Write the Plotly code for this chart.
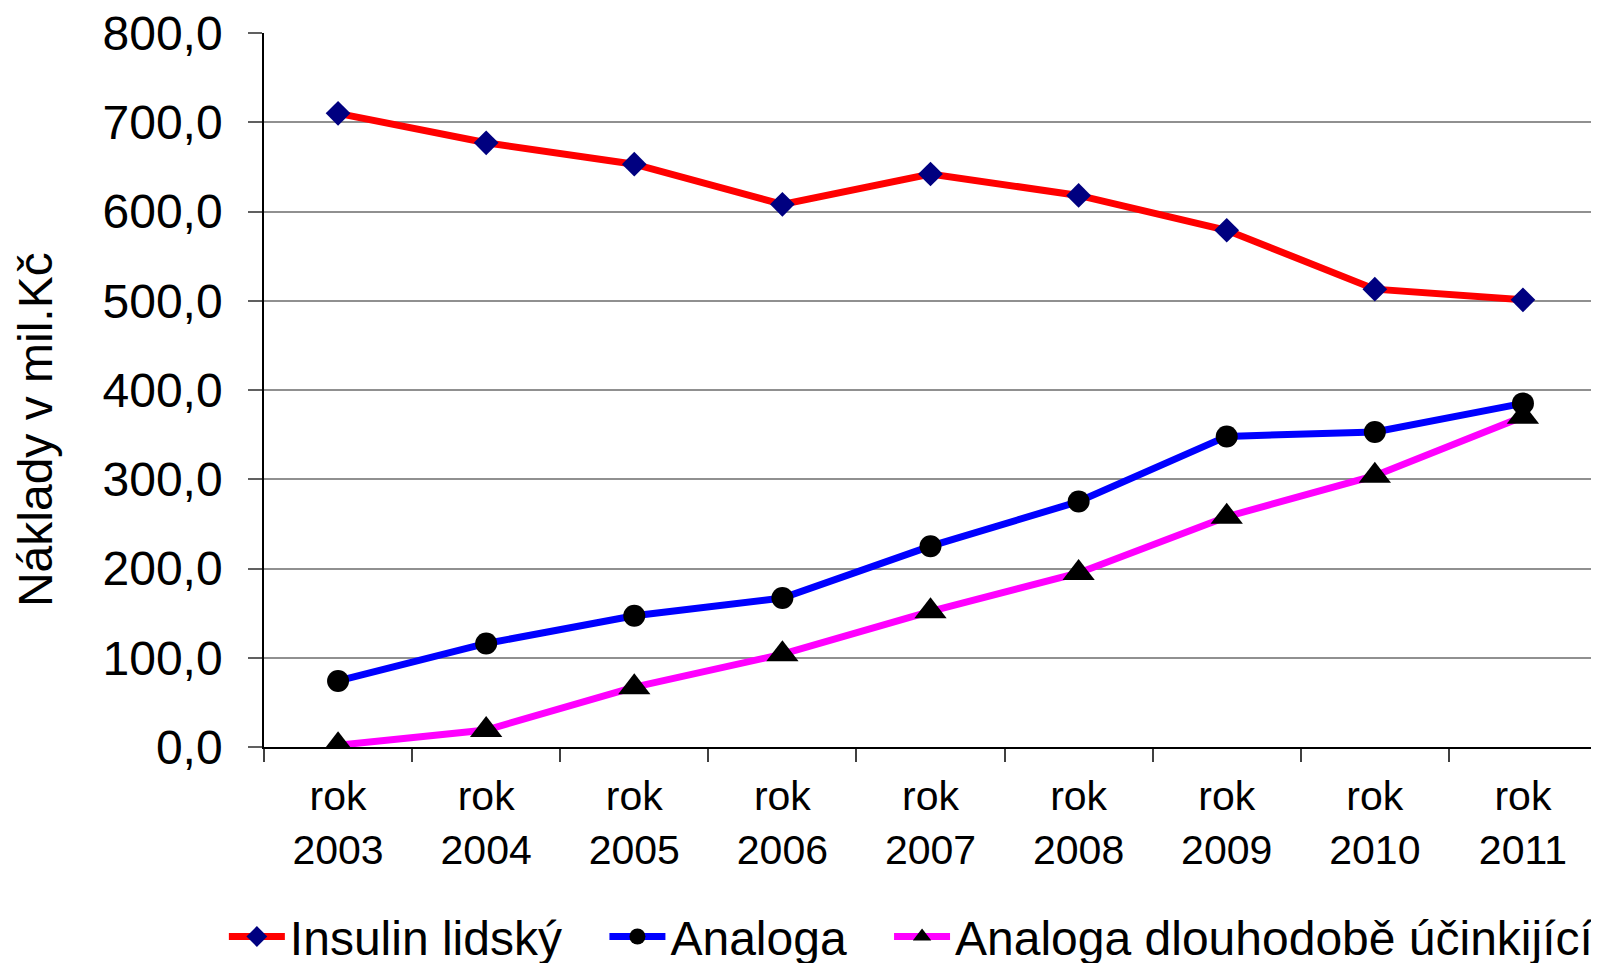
import plotly.graph_objects as go

categories = ["rok<br>2003", "rok<br>2004", "rok<br>2005", "rok<br>2006", "rok<br>2007",
              "rok<br>2008", "rok<br>2009", "rok<br>2010", "rok<br>2011"]
insulin_lidsky = [710, 677, 653, 608, 642, 618, 579, 513, 501]
analoga = [74, 116, 147, 167, 225, 275, 348, 353, 385]
analoga_dlouhodobe = [2, 19, 67, 104, 152, 195, 258, 304, 370]
y_ticks = [0, 100, 200, 300, 400, 500, 600, 700, 800]
y_title = "Náklady v mil.Kč"

FONT = "Liberation Sans, Arial, sans-serif"

fig = go.Figure()
fig.add_trace(go.Scatter(
    x=categories, y=insulin_lidsky, name="Insulin lidský", mode="lines+markers",
    line=dict(color="#FF0000", width=7),
    marker=dict(symbol="diamond", size=19, color="#000080"),
    legend="legend",
))
fig.add_trace(go.Scatter(
    x=categories, y=analoga, name="Analoga", mode="lines+markers",
    line=dict(color="#0000FF", width=7),
    marker=dict(symbol="circle", size=22, color="#000000"),
    legend="legend2",
))
fig.add_trace(go.Scatter(
    x=categories, y=analoga_dlouhodobe, name="Analoga dlouhodobě účinkijící", mode="lines+markers",
    line=dict(color="#FF00FF", width=7),
    marker=dict(symbol="triangle-up", size=28, color="#000000"),
    legend="legend3",
))

legend_common = dict(
    orientation="h", xref="container", yref="container",
    xanchor="left", y=0.075, yanchor="top",
    font=dict(size=48, family=FONT), itemwidth=56,
    bgcolor="rgba(0,0,0,0)",
)

fig.update_layout(
    width=1599, height=963,
    paper_bgcolor="white", plot_bgcolor="white",
    margin=dict(l=256, r=10, t=25, b=224, autoexpand=False),
    separators=", ",
    font=dict(family=FONT, color="black"),
    showlegend=True,
    legend=dict(legend_common, x=0.135),
    legend2=dict(legend_common, x=0.373),
    legend3=dict(legend_common, x=0.551),
    xaxis=dict(
        type="category", tickson="boundaries", showgrid=False,
        range=[-0.5, len(categories) - 0.5],
        showline=True, linecolor="black", linewidth=2,
        ticks="outside", ticklen=13, tickcolor="#404040", tickwidth=1.5,
        tickfont=dict(size=41, family=FONT), ticklabelstandoff=12,
    ),
    yaxis=dict(
        range=[0, 800], tickvals=y_ticks, tickformat=".1f",
        showgrid=True, gridcolor="#909090", gridwidth=2,
        showline=True, linecolor="black", linewidth=1.5, zeroline=False,
        ticks="outside", ticklen=14, tickcolor="#606060", tickwidth=1.5,
        tickfont=dict(size=48, family=FONT), ticklabelstandoff=16,
        ticklabeloverflow="allow",
    ),
    annotations=[dict(
        text=y_title, textangle=-90, showarrow=False,
        xref="paper", yref="paper", x=-0.171, y=0.444,
        xanchor="center", yanchor="middle",
        font=dict(size=48, family=FONT, color="black"),
    )],
)

fig.write_html("out.html")
